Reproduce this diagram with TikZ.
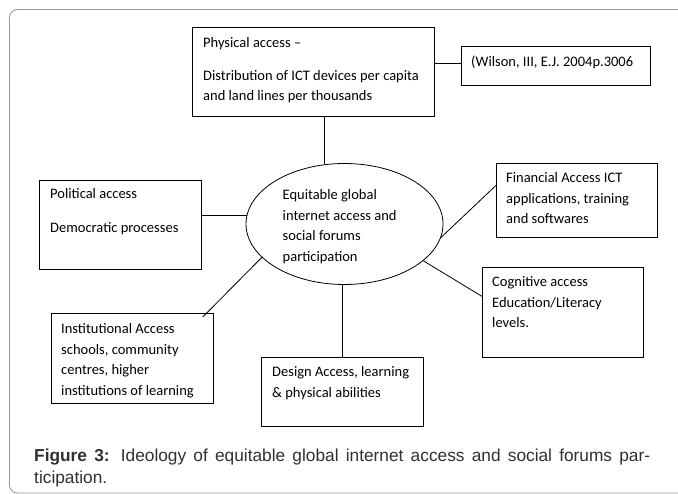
\documentclass[tikz,border=0pt]{standalone}
\usepackage{fontspec}
\setmainfont{Carlito}
\newfontfamily\capfont{Liberation Sans}
\usetikzlibrary{shapes.geometric,calc}
\definecolor{framegray}{HTML}{9A9A9A}
\definecolor{capgray}{HTML}{303030}
\begin{document}
\begin{tikzpicture}[x=1pt,y=-1pt,
  box/.style={draw=black,line width=0.8pt,inner sep=0pt,anchor=north west},
  txt/.style={inner sep=0pt,anchor=north west,align=left,font=\fontsize{14.5}{20.8}\selectfont},
  conn/.style={draw=black,line width=0.8pt},
  capnode/.style={inner sep=0pt,anchor=base west,text=capgray,font=\capfont\fontsize{17.3}{21}\selectfont}]
\useasboundingbox (0,0) rectangle (678,494);
\clip (0,0) rectangle (678,494);
\draw[framegray,line width=0.9pt,rounded corners=8pt] (9.5,9.5) rectangle (720,493);
% boxes
\node[box,minimum width=242pt,minimum height=89pt] (phys) at (192,27) {};
\node[box,minimum width=189pt,minimum height=39pt] (wil) at (461,46) {};
\node[box,minimum width=162pt,minimum height=89pt] (pol) at (39,180) {};
\node[box,minimum width=161pt,minimum height=74pt] (fin) at (496,163) {};
\node[box,minimum width=161pt,minimum height=90pt] (cog) at (482,267) {};
\node[box,minimum width=162pt,minimum height=90pt] (inst) at (51,313) {};
\node[box,minimum width=162pt,minimum height=69pt] (des) at (261,357) {};
\node[draw=black,line width=0.8pt,ellipse,inner sep=0pt,minimum width=197pt,minimum height=121pt] (ell) at (344.5,224) {};
% texts
\node[txt] (physt) at (203,37) {Physical access --\\[12pt]Distribution of ICT devices per capita\\and land lines per thousands};
\node[txt] (wilt) at (471,56) {(Wilson, III, E.J. 2004p.3006};
\node[txt] (polt) at (50,188) {Political access\\[13pt]Democratic processes};
\node[txt] (ellt) at (282.5,189) {Equitable global\\internet access and\\social forums\\participation};
\node[txt] (fint) at (506,172) {Financial Access ICT\\applications, training\\and softwares};
\node[txt] (cogt) at (492,276) {Cognitive access\\Education/Literacy\\levels.};
\node[txt] (instt) at (61,323) {Institutional Access\\schools, community\\centres, higher\\institutions of learning};
\node[txt] (dest) at (272,366) {Design Access, learning\\\&\ physical abilities};
% connectors
\draw[conn] ([yshift=2.5pt]wil.west -| phys.east) -- ([yshift=2.5pt]wil.west);
\draw[conn] (ell.109) -- (ell.109 |- phys.south);
\draw[conn] (ell.175) -- (ell.175 -| pol.east);
\draw[conn] (ell.-8) -- ([yshift=15pt]fin.west);
\draw[conn] (ell.-25) -- ([yshift=16pt]cog.west);
\draw[conn] (ell.202) -- ($(inst.north east)+(-11,4)$);
\draw[conn] (des.north) -- (des.north |- ell.south);
% caption
\node[capnode] (cap1) at (34,462) {\makebox[616pt][s]{\textbf{Figure 3:} Ideology of equitable global internet access and social forums par-}};
\node[capnode] (cap2) at (34,483) {ticipation.};
\end{tikzpicture}
\end{document}
